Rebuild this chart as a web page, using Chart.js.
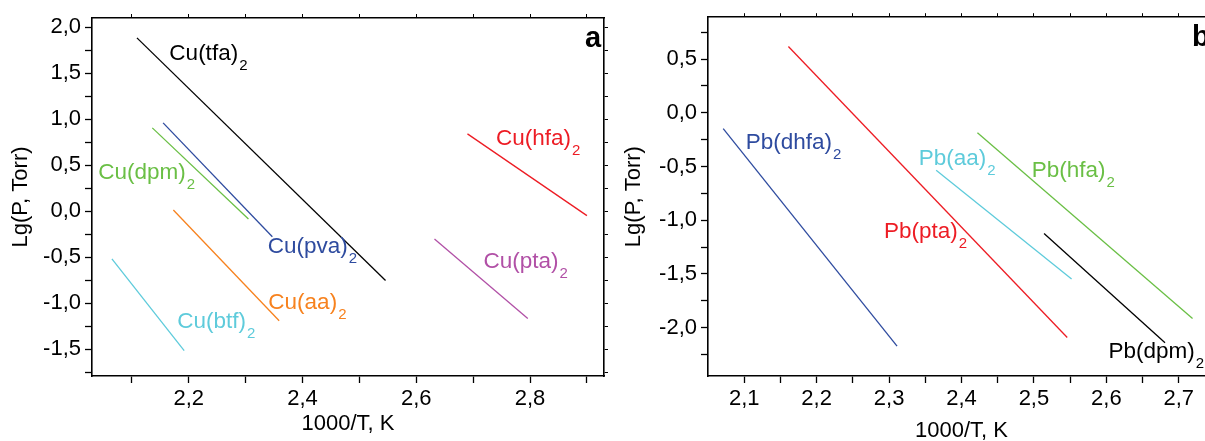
<!DOCTYPE html>
<html>
<head>
<meta charset="utf-8">
<script src="https://cdn.jsdelivr.net/npm/chart.js@4.4.1/dist/chart.umd.min.js"></script>
<style>
  body { margin: 0; background: #fff; width: 1205px; height: 441px; overflow: hidden; position: relative; }
  #chartA { position: absolute; left: 0; top: 0; }
  #chartB { position: absolute; left: 610px; top: 0; }
</style>
</head>
<body>
<canvas id="chartA" width="612" height="441"></canvas>
<canvas id="chartB" width="620" height="450"></canvas>
<script>
// panel a - Cu complexes, lg P vs 1000/T (each line = start/end of the fit)
const cuTfaX = [2.109, 2.546], cuTfaY = [1.884, -0.752];
const cuPvaX = [2.155, 2.347], cuPvaY = [0.96, -0.277];
const cuDpmX = [2.136, 2.305], cuDpmY = [0.906, -0.083];
const cuAaX  = [2.173, 2.359], cuAaY  = [0.014, -1.19];
const cuBtfX = [2.065, 2.192], cuBtfY = [-0.518, -1.514];
const cuHfaX = [2.69, 2.9],    cuHfaY = [0.841, -0.047];
const cuPtaX = [2.632, 2.796], cuPtaY = [-0.302, -1.165];

// panel b - Pb complexes
const pbDhfaX = [2.071, 2.311], pbDhfaY = [-0.148, -2.172];
const pbPtaX  = [2.161, 2.546], pbPtaY  = [0.617, -2.092];
const pbAaX   = [2.365, 2.552], pbAaY   = [-0.534, -1.546];
const pbHfaX  = [2.422, 2.719], pbHfaY  = [-0.185, -1.914];
const pbDpmX  = [2.514, 2.681], pbDpmY  = [-1.123, -2.141];

// tick values (majors get a label)
const aXTicks = [2.1, 2.2, 2.3, 2.4, 2.5, 2.6, 2.7, 2.8, 2.9];
const aXMajor = [2.2, 2.4, 2.6, 2.8];
const aYTicks = [-1.75, -1.5, -1.25, -1.0, -0.75, -0.5, -0.25, 0, 0.25, 0.5, 0.75, 1.0, 1.25, 1.5, 1.75, 2.0];
const aYMajor = [-1.5, -1.0, -0.5, 0, 0.5, 1.0, 1.5, 2.0];
const bXTicks = [2.1, 2.15, 2.2, 2.25, 2.3, 2.35, 2.4, 2.45, 2.5, 2.55, 2.6, 2.65, 2.7];
const bXMajor = [2.1, 2.2, 2.3, 2.4, 2.5, 2.6, 2.7];
const bYTicks = [-2.25, -2.0, -1.75, -1.5, -1.25, -1.0, -0.75, -0.5, -0.25, 0, 0.25, 0.5, 0.75];
const bYMajor = [-2.0, -1.5, -1.0, -0.5, 0, 0.5];

// text labels next to lines
const cuLabels = ['Cu(tfa)', 'Cu(hfa)', 'Cu(dpm)', 'Cu(pva)', 'Cu(pta)', 'Cu(aa)', 'Cu(btf)'];
const cuLabelX = [2.166, 2.74, 2.041, 2.339, 2.718, 2.34, 2.18];
const cuLabelY = [1.71, 0.79, 0.42, -0.39, -0.55, -0.99, -1.2];
const pbLabels = ['Pb(dhfa)', 'Pb(aa)', 'Pb(hfa)', 'Pb(pta)', 'Pb(dpm)'];
const pbLabelX = [2.102, 2.341, 2.497, 2.293, 2.603];
const pbLabelY = [-0.278, -0.432, -0.54, -1.107, -2.227];

const BLACK = '#000000', BLUE = '#2e4b9f', GREEN = '#6abf45', ORANGE = '#f7821e',
      CYAN = '#5ecbdb', RED = '#ed1c24', MAGENTA = '#b150a6';
const FONT = '"Liberation Sans", Arial, sans-serif';

Chart.defaults.font.family = FONT;
Chart.defaults.color = '#000';

function pts(xs, ys) {
  return xs.map(function (x, i) { return { x: x, y: ys[i] }; });
}
function line(xs, ys, color) {
  return { data: pts(xs, ys), borderColor: color, borderWidth: 1.3, showLine: true, pointRadius: 0, fill: false };
}
function fmt(v) {
  return v.toFixed(1).replace('.', ',');
}
function isIn(v, arr) {
  return arr.some(function (m) { return Math.abs(m - v) < 1e-6; });
}

// draws the compound names with a subscript 2, and the panel letter
const textPlugin = {
  id: 'texts',
  afterDatasetsDraw(chart, args, opts) {
    const ctx = chart.ctx, xs = chart.scales.x, ys = chart.scales.y;
    ctx.save();
    ctx.textBaseline = 'middle';
    ctx.textAlign = 'left';
    opts.names.forEach(function (name, i) {
      const px = xs.getPixelForValue(opts.xs[i]);
      const py = ys.getPixelForValue(opts.ys[i]);
      ctx.fillStyle = opts.colors[i];
      ctx.font = '22.5px ' + FONT;
      ctx.fillText(name, px, py);
      const w = ctx.measureText(name).width;
      ctx.font = '15px ' + FONT;
      ctx.fillText('2', px + w + 1, py + 12);
    });
    const area = chart.chartArea;
    ctx.fillStyle = '#000';
    ctx.font = 'bold 29px ' + FONT;
    ctx.fillText(opts.letter, area.right - opts.letterOffset, area.top + 21);
    ctx.restore();
  }
};

function axes(cfg) {
  const tickGrid = { display: true, drawOnChartArea: false, drawTicks: true, tickLength: 7, tickWidth: 1.3, tickColor: '#000' };
  const mirrorGrid = { display: true, drawOnChartArea: false, drawTicks: true, tickLength: 4, tickWidth: 1, tickColor: '#000' };
  const border = { display: true, color: '#000', width: 1.6 };
  return {
    x: {
      type: 'linear', position: 'bottom', min: cfg.xMin, max: cfg.xMax,
      afterBuildTicks: function (a) { a.ticks = cfg.xTicks.map(function (v) { return { value: v }; }); },
      afterFit: function (a) { a.height = cfg.xHeight; },
      ticks: { autoSkip: false, maxRotation: 0, padding: 3, font: { size: 22 },
        callback: function (v) { return isIn(v, cfg.xMajor) ? fmt(v) : ''; } },
      grid: tickGrid, border: border,
      title: { display: true, text: '1000/T, K', font: { size: 22 }, padding: { top: 0, bottom: cfg.xTitlePad } }
    },
    y: {
      type: 'linear', position: 'left', min: cfg.yMin, max: cfg.yMax,
      afterBuildTicks: function (a) { a.ticks = cfg.yTicks.map(function (v) { return { value: v }; }); },
      afterFit: function (a) { a.width = cfg.yWidth; },
      ticks: { autoSkip: false, padding: 4, font: { size: 22 },
        callback: function (v) { return isIn(v, cfg.yMajor) ? fmt(v) : ''; } },
      grid: tickGrid, border: border,
      title: { display: true, text: 'Lg(P, Torr)', font: { size: 22 }, padding: { top: cfg.yTitlePad, bottom: 0 } }
    },
    x2: {
      type: 'linear', position: 'top', min: cfg.xMin, max: cfg.xMax,
      afterBuildTicks: function (a) { a.ticks = cfg.xTicks.map(function (v) { return { value: v }; }); },
      afterFit: function (a) { a.height = 0; },
      ticks: { display: false }, grid: mirrorGrid, border: border
    },
    y2: {
      type: 'linear', position: 'right', min: cfg.yMin, max: cfg.yMax,
      afterBuildTicks: function (a) { a.ticks = cfg.yTicks.map(function (v) { return { value: v }; }); },
      afterFit: function (a) { a.width = 0; },
      ticks: { display: false }, grid: mirrorGrid, border: border
    }
  };
}

new Chart(document.getElementById('chartA'), {
  type: 'scatter',
  data: {
    datasets: [
      line(cuTfaX, cuTfaY, BLACK),
      line(cuPvaX, cuPvaY, BLUE),
      line(cuDpmX, cuDpmY, GREEN),
      line(cuAaX, cuAaY, ORANGE),
      line(cuBtfX, cuBtfY, CYAN),
      line(cuHfaX, cuHfaY, RED),
      line(cuPtaX, cuPtaY, MAGENTA)
    ]
  },
  options: {
    responsive: false, animation: false, devicePixelRatio: 1,
    layout: { padding: { left: 0, right: 8, top: 18, bottom: 0 } },
    plugins: {
      legend: { display: false }, tooltip: { enabled: false },
      texts: { names: cuLabels, xs: cuLabelX, ys: cuLabelY,
        colors: [BLACK, RED, GREEN, BLUE, MAGENTA, ORANGE, CYAN], letter: 'a', letterOffset: 19 }
    },
    scales: axes({ xMin: 2.03, xMax: 2.93, yMin: -1.79, yMax: 2.1,
      xTicks: aXTicks, xMajor: aXMajor, yTicks: aYTicks, yMajor: aYMajor,
      xHeight: 65, yWidth: 92, xTitlePad: 4, yTitlePad: 8 })
  },
  plugins: [textPlugin]
});

new Chart(document.getElementById('chartB'), {
  type: 'scatter',
  data: {
    datasets: [
      line(pbDhfaX, pbDhfaY, BLUE),
      line(pbPtaX, pbPtaY, RED),
      line(pbAaX, pbAaY, CYAN),
      line(pbHfaX, pbHfaY, GREEN),
      line(pbDpmX, pbDpmY, BLACK)
    ]
  },
  options: {
    responsive: false, animation: false, devicePixelRatio: 1,
    layout: { padding: { left: 0, right: 15, top: 17, bottom: 0 } },
    plugins: {
      legend: { display: false }, tooltip: { enabled: false },
      texts: { names: pbLabels, xs: pbLabelX, ys: pbLabelY,
        colors: [BLUE, CYAN, GREEN, RED, BLACK], letter: 'b', letterOffset: 23 }
    },
    scales: axes({ xMin: 2.05, xMax: 2.75, yMin: -2.45, yMax: 0.89,
      xTicks: bXTicks, xMajor: bXMajor, yTicks: bYTicks, yMajor: bYMajor,
      xHeight: 74, yWidth: 98, xTitlePad: 6, yTitlePad: 11 })
  },
  plugins: [textPlugin]
});
</script>
</body>
</html>
